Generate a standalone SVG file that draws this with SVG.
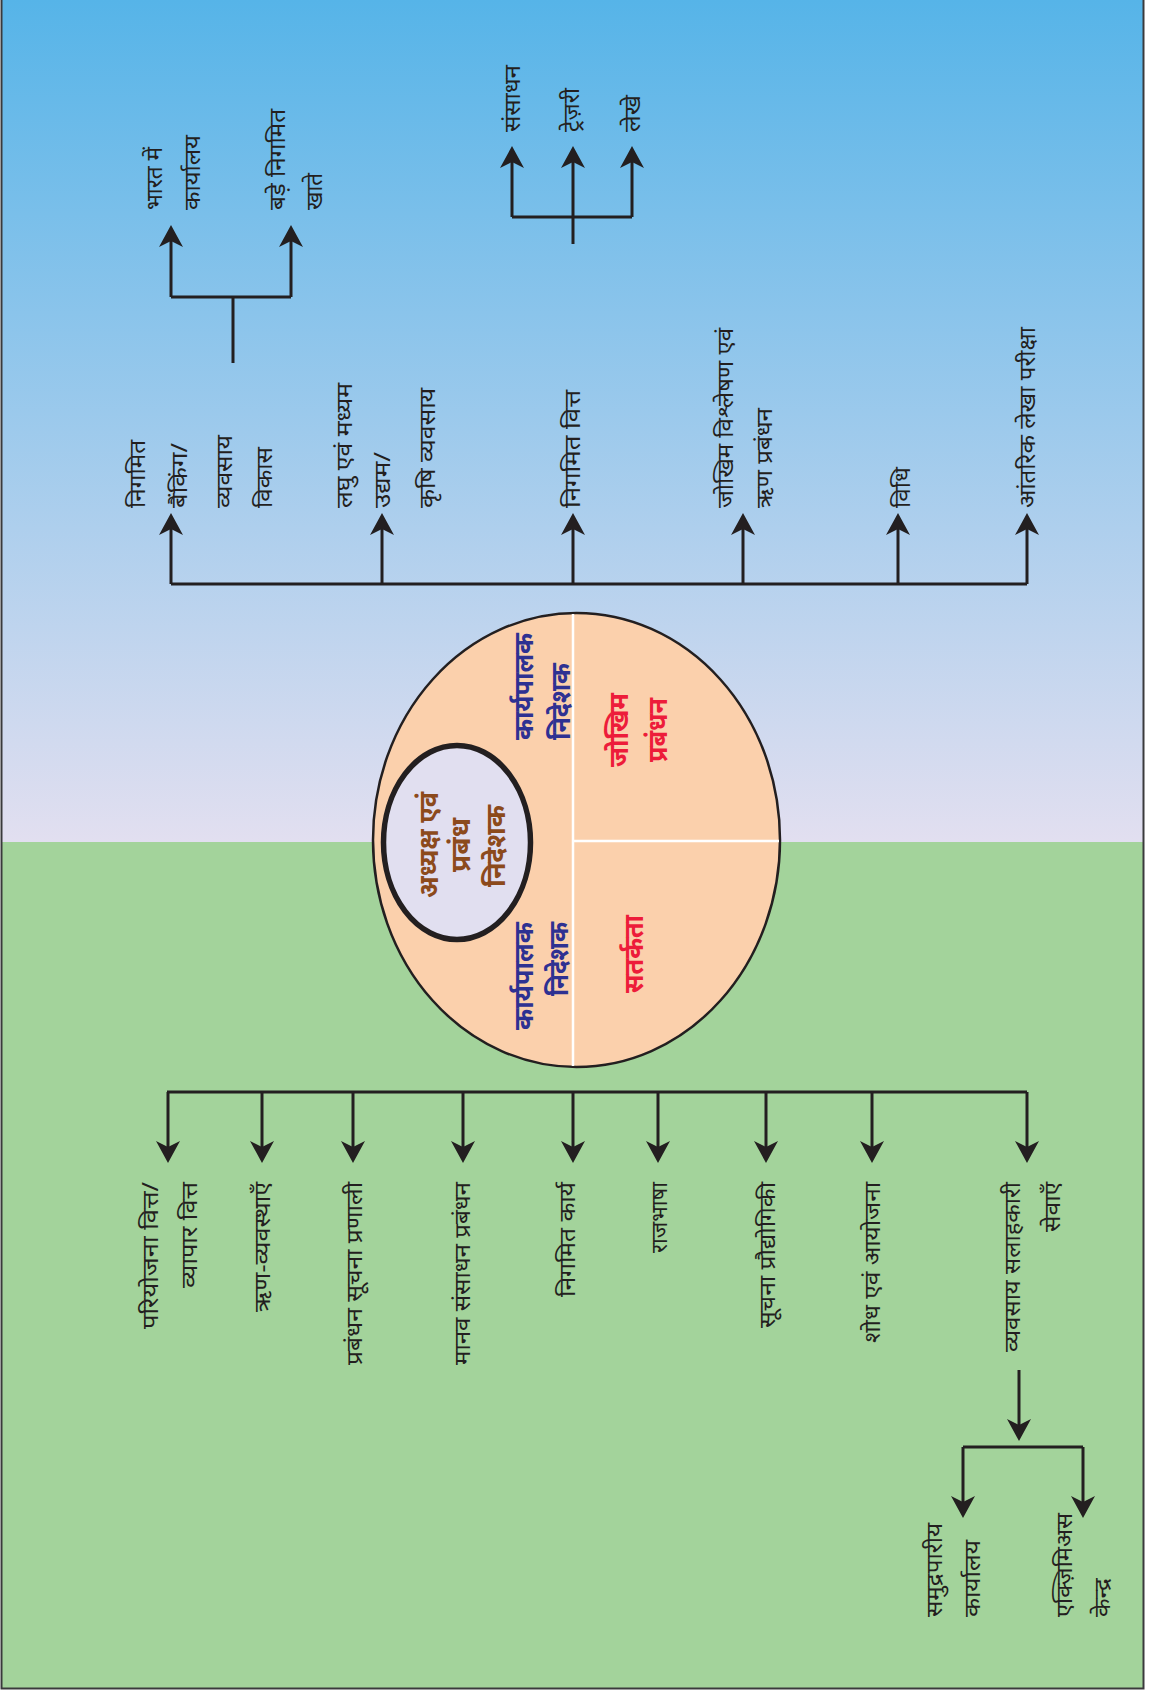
<svg xmlns="http://www.w3.org/2000/svg" width="1152" height="1693" viewBox="0 0 1152 1693">
<defs>
<linearGradient id="sky" x1="0" y1="0" x2="0" y2="1">
<stop offset="0" stop-color="#56B4E8"/>
<stop offset="1" stop-color="#E2DFF0"/>
</linearGradient>
<marker id="ah" viewBox="0 -12 22 24" refX="6" refY="0" markerWidth="22" markerHeight="24" markerUnits="userSpaceOnUse" orient="auto">
<path d="M0,-12 L22,0 L0,12 L6,0 Z" fill="#231F20"/>
</marker>
<style>
.t{font-family:"Noto Sans",sans-serif;font-size:22px;fill:#231F20}
.s{text-anchor:start}
.e{text-anchor:end}
.m{text-anchor:middle}
.b{font-family:"Noto Sans",sans-serif;font-size:27px;font-weight:bold}
.blue{fill:#2E3192}
.red{fill:#ED1C3A}
.brown{fill:#8C4A1C}
.ln{stroke:#231F20;stroke-width:3;fill:none}
.ar{stroke:#231F20;stroke-width:3;fill:none;marker-end:url(#ah)}
</style>
</defs>
<rect x="0" y="0" width="1152" height="1693" fill="#FFFFFF"/>
<rect x="2" y="0" width="1141" height="842" fill="url(#sky)"/>
<rect x="2" y="842" width="1141" height="846" fill="#A3D39B"/>
<rect x="1.5" y="-1" width="1142" height="1689.5" fill="none" stroke="#3A3A3C" stroke-width="2"/>

<g id="centre">
<ellipse cx="576.5" cy="840" rx="203.5" ry="227" fill="#FBD0AC" stroke="#231F20" stroke-width="2.5"/>
<path d="M573,614 V1066 M573,841 H779" stroke="#FFFFFF" stroke-width="2.5" fill="none"/>
<ellipse cx="457" cy="842.5" rx="73.5" ry="97" fill="#E1DFF0" stroke="#231F20" stroke-width="5.5"/>
</g>

<g id="connectors">
<path class="ln" d="M171,584 H1027"/>
<path class="ar" d="M171,584 V529"/>
<path class="ar" d="M382,584 V529"/>
<path class="ar" d="M573,584 V529"/>
<path class="ar" d="M743,584 V529"/>
<path class="ar" d="M898,584 V529"/>
<path class="ar" d="M1027,584 V529"/>
<path class="ln" d="M233,363 V297 M171,297 H291"/>
<path class="ar" d="M171,297 V241"/>
<path class="ar" d="M291,297 V241"/>
<path class="ln" d="M512,217 H632"/>
<path class="ar" d="M512,217 V162"/>
<path class="ar" d="M573,244 V162"/>
<path class="ar" d="M632,217 V162"/>
<path class="ln" d="M167,1092 H1027"/>
<path class="ar" d="M168,1092 V1147"/>
<path class="ar" d="M262,1092 V1147"/>
<path class="ar" d="M353,1092 V1147"/>
<path class="ar" d="M463,1092 V1147"/>
<path class="ar" d="M573,1092 V1147"/>
<path class="ar" d="M658,1092 V1147"/>
<path class="ar" d="M766,1092 V1147"/>
<path class="ar" d="M872,1092 V1147"/>
<path class="ar" d="M1027,1092 V1147"/>
<path class="ar" d="M1019,1370 V1425"/>
<path class="ln" d="M963,1447 H1083"/>
<path class="ar" d="M963,1447 V1502"/>
<path class="ar" d="M1083,1447 V1502"/>
</g>

<g id="n-centre-text">
<text class="b blue s" transform="translate(533,740) rotate(-90)" textLength="107" lengthAdjust="spacingAndGlyphs">कार्यपालक</text>
<text class="b blue s" transform="translate(570,740) rotate(-90)" textLength="77" lengthAdjust="spacingAndGlyphs">निदेशक</text>
<text class="b red m" transform="translate(628,730) rotate(-90)" textLength="74" lengthAdjust="spacingAndGlyphs">जोखिम</text>
<text class="b red m" transform="translate(667,730) rotate(-90)" textLength="64" lengthAdjust="spacingAndGlyphs">प्रबंधन</text>
<text class="b brown m" transform="translate(438,845) rotate(-90)" textLength="106" lengthAdjust="spacingAndGlyphs">अध्यक्ष एवं</text>
<text class="b brown m" transform="translate(470,845) rotate(-90)" textLength="54" lengthAdjust="spacingAndGlyphs">प्रबंध</text>
<text class="b brown m" transform="translate(505,846) rotate(-90)" textLength="82" lengthAdjust="spacingAndGlyphs">निदेशक</text>
<text class="b blue e" transform="translate(533,922) rotate(-90)" textLength="108" lengthAdjust="spacingAndGlyphs">कार्यपालक</text>
<text class="b blue e" transform="translate(568,922) rotate(-90)" textLength="74" lengthAdjust="spacingAndGlyphs">निदेशक</text>
<text class="b red m" transform="translate(643,954) rotate(-90)" textLength="78" lengthAdjust="spacingAndGlyphs">सतर्कता</text>
</g>

<g id="n-top-1"><text class="t s" transform="translate(145,508) rotate(-90)" textLength="68" lengthAdjust="spacingAndGlyphs">निगमित</text><text class="t s" transform="translate(187,508) rotate(-90)" textLength="65" lengthAdjust="spacingAndGlyphs">बैंकिंग/</text><text class="t s" transform="translate(232,508) rotate(-90)" textLength="73" lengthAdjust="spacingAndGlyphs">व्यवसाय</text><text class="t s" transform="translate(272,508) rotate(-90)" textLength="61" lengthAdjust="spacingAndGlyphs">विकास</text></g>
<g id="n-top-2"><text class="t s" transform="translate(352,508) rotate(-90)" textLength="125" lengthAdjust="spacingAndGlyphs">लघु एवं मध्यम</text><text class="t s" transform="translate(390,508) rotate(-90)" textLength="56" lengthAdjust="spacingAndGlyphs">उद्यम/</text><text class="t s" transform="translate(435,508) rotate(-90)" textLength="120" lengthAdjust="spacingAndGlyphs">कृषि व्यवसाय</text></g>
<g id="n-top-3"><text class="t s" transform="translate(580,508) rotate(-90)" textLength="118" lengthAdjust="spacingAndGlyphs">निगमित वित्त</text></g>
<g id="n-top-4"><text class="t s" transform="translate(733,508) rotate(-90)" textLength="180" lengthAdjust="spacingAndGlyphs">जोखिम विश्लेषण एवं</text><text class="t s" transform="translate(772,508) rotate(-90)" textLength="100" lengthAdjust="spacingAndGlyphs">ऋण प्रबंधन</text></g>
<g id="n-top-5"><text class="t s" transform="translate(910,508) rotate(-90)" textLength="41" lengthAdjust="spacingAndGlyphs">विधि</text></g>
<g id="n-top-6"><text class="t s" transform="translate(1035,508) rotate(-90)" textLength="181" lengthAdjust="spacingAndGlyphs">आंतरिक लेखा परीक्षा</text></g>

<g id="n-sub-a"><text class="t s" transform="translate(162,210) rotate(-90)" textLength="63" lengthAdjust="spacingAndGlyphs">भारत में</text><text class="t s" transform="translate(200,210) rotate(-90)" textLength="75" lengthAdjust="spacingAndGlyphs">कार्यालय</text></g>
<g id="n-sub-b"><text class="t s" transform="translate(285,210) rotate(-90)" textLength="101" lengthAdjust="spacingAndGlyphs">बड़े निगमित</text><text class="t s" transform="translate(322,210) rotate(-90)" textLength="37" lengthAdjust="spacingAndGlyphs">खाते</text></g>
<g id="n-sub-c"><text class="t s" transform="translate(520,132) rotate(-90)" textLength="67" lengthAdjust="spacingAndGlyphs">संसाधन</text></g>
<g id="n-sub-d"><text class="t s" transform="translate(579,132) rotate(-90)" textLength="44" lengthAdjust="spacingAndGlyphs">ट्रेज़री</text></g>
<g id="n-sub-e"><text class="t s" transform="translate(640,132) rotate(-90)" textLength="37" lengthAdjust="spacingAndGlyphs">लेखे</text></g>

<g id="n-bot-1"><text class="t e" transform="translate(158,1182) rotate(-90)" textLength="147" lengthAdjust="spacingAndGlyphs">परियोजना वित्त/</text><text class="t e" transform="translate(197,1182) rotate(-90)" textLength="106" lengthAdjust="spacingAndGlyphs">व्यापार वित्त</text></g>
<g id="n-bot-2"><text class="t e" transform="translate(270,1182) rotate(-90)" textLength="130" lengthAdjust="spacingAndGlyphs">ऋण-व्यवस्थाएँ</text></g>
<g id="n-bot-3"><text class="t e" transform="translate(362,1182) rotate(-90)" textLength="183" lengthAdjust="spacingAndGlyphs">प्रबंधन सूचना प्रणाली</text></g>
<g id="n-bot-4"><text class="t e" transform="translate(470,1182) rotate(-90)" textLength="183" lengthAdjust="spacingAndGlyphs">मानव संसाधन प्रबंधन</text></g>
<g id="n-bot-5"><text class="t e" transform="translate(575,1182) rotate(-90)" textLength="115" lengthAdjust="spacingAndGlyphs">निगमित कार्य</text></g>
<g id="n-bot-6"><text class="t e" transform="translate(667,1182) rotate(-90)" textLength="71" lengthAdjust="spacingAndGlyphs">राजभाषा</text></g>
<g id="n-bot-7"><text class="t e" transform="translate(775,1182) rotate(-90)" textLength="146" lengthAdjust="spacingAndGlyphs">सूचना प्रौद्योगिकी</text></g>
<g id="n-bot-8"><text class="t e" transform="translate(880,1182) rotate(-90)" textLength="161" lengthAdjust="spacingAndGlyphs">शोध एवं आयोजना</text></g>
<g id="n-bot-9"><text class="t e" transform="translate(1020,1182) rotate(-90)" textLength="170" lengthAdjust="spacingAndGlyphs">व्यवसाय सलाहकारी</text><text class="t e" transform="translate(1060,1182) rotate(-90)" textLength="50" lengthAdjust="spacingAndGlyphs">सेवाएँ</text></g>
<g id="n-bot-10"><text class="t s" transform="translate(942,1617) rotate(-90)" textLength="94" lengthAdjust="spacingAndGlyphs">समुद्रपारीय</text><text class="t s" transform="translate(980,1617) rotate(-90)" textLength="77" lengthAdjust="spacingAndGlyphs">कार्यालय</text></g>
<g id="n-bot-11"><text class="t s" transform="translate(1072,1617) rotate(-90)" textLength="104" lengthAdjust="spacingAndGlyphs">एक्ज़िमिअस</text><text class="t s" transform="translate(1110,1617) rotate(-90)" textLength="39" lengthAdjust="spacingAndGlyphs">केन्द्र</text></g>
</svg>
